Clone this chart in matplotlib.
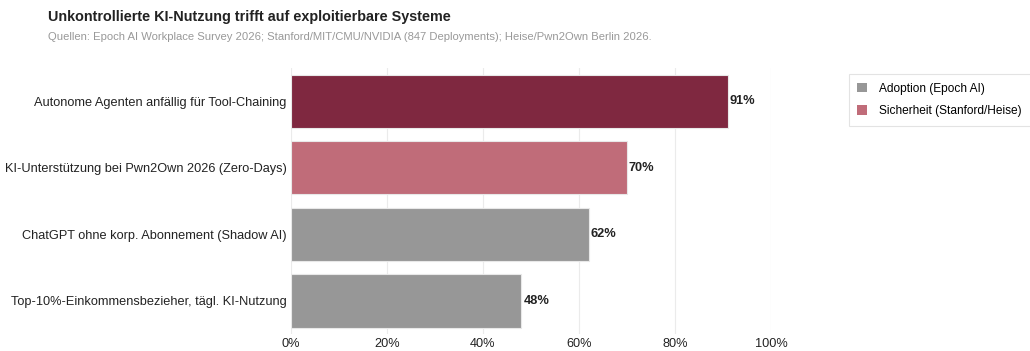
import matplotlib.pyplot as plt
from matplotlib.patches import Patch
from matplotlib.ticker import PercentFormatter

plt.rcParams['font.family'] = ['Liberation Sans', 'DejaVu Sans']

# Kategorien von oben nach unten
labels = [
    "Autonome Agenten anfällig für Tool-Chaining",
    "KI-Unterstützung bei Pwn2Own 2026 (Zero-Days)",
    "ChatGPT ohne korp. Abonnement (Shadow AI)",
    "Top-10%-Einkommensbezieher, tägl. KI-Nutzung",
]
values = [91, 70, 62, 48]
colors = ["#7f2840", "#c06c79", "#979797", "#979797"]

legend_labels = ["Adoption (Epoch AI)", "Sicherheit (Stanford/Heise)"]
legend_colors = ["#979797", "#c06c79"]

fig = plt.figure(figsize=(10.3, 3.51), dpi=100)
ax = fig.add_axes([0.2825, 0.048, 0.466, 0.758])

ypos = range(len(labels))
ax.barh(ypos, values, height=0.8, color=colors, edgecolor="#e8e8e8", linewidth=0.8, zorder=2)
for y, v in zip(ypos, values):
    ax.text(v + 0.4, y, f"{v}%", va="center", ha="left", fontsize=9.2,
            fontweight="bold", color="#222222")

ax.set_ylim(len(labels) - 0.5, -0.5)
ax.set_xlim(0, 100)
ax.set_yticks(list(ypos))
ax.set_yticklabels(labels, fontsize=9.2, color="#222222")
ax.set_xticks(range(0, 101, 20))
ax.xaxis.set_major_formatter(PercentFormatter(decimals=0))
ax.tick_params(axis="x", labelsize=9.2, colors="#222222", length=0, pad=3)
ax.tick_params(axis="y", length=0, pad=3)
ax.grid(axis="x", color="#ebebeb", linewidth=0.8, zorder=0)
for s in ax.spines.values():
    s.set_visible(False)

handles = [Patch(facecolor=c, edgecolor="none") for c in legend_colors]
leg = fig.legend(handles, legend_labels, loc="upper left", bbox_to_anchor=(0.818, 0.806),
                 fontsize=8.6, frameon=True, fancybox=False, edgecolor="#dddddd",
                 handlelength=0.8, handleheight=0.8, handletextpad=1.0,
                 borderpad=0.75, labelspacing=0.85)
leg.get_frame().set_linewidth(0.8)

fig.text(0.047, 0.952, "Unkontrollierte KI-Nutzung trifft auf exploitierbare Systeme",
         fontsize=10.4, fontweight="bold", color="#222222", va="center")
fig.text(0.047, 0.895, "Quellen: Epoch AI Workplace Survey 2026; Stanford/MIT/CMU/NVIDIA (847 Deployments); Heise/Pwn2Own Berlin 2026.",
         fontsize=8.1, color="#999999", va="center")

fig.savefig("out.png", dpi=100)
